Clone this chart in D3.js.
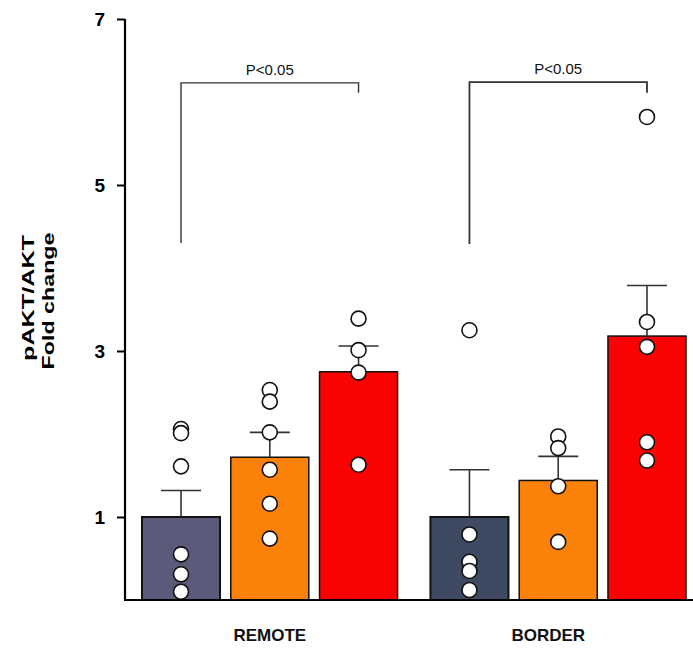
<!DOCTYPE html>
<html>
<head>
<meta charset="utf-8">
<script src="https://cdn.jsdelivr.net/npm/d3@7"></script>
<style>
  html, body { margin: 0; padding: 0; background: #fff; }
  svg { display: block; font-family: "Liberation Sans", Arial, sans-serif; }
</style>
</head>
<body>
<svg id="chart" width="693" height="648"></svg>
<script>
// ---- data ----
const groups = ["REMOTE", "BORDER"];
const conditions = ["C1", "C2", "C3"];
const yTicks = [1, 3, 5, 7];
const remoteMeans = [1.0, 1.72, 2.75];
const borderMeans = [1.0, 1.44, 3.18];
const remoteErrTop = [1.32, 2.02, 3.06];
const borderErrTop = [1.57, 1.73, 3.79];
const remotePoints = [
  [2.06, 2.01, 1.61, 0.55, 0.31, 0.10],
  [2.53, 2.39, 2.02, 1.57, 1.16, 0.74],
  [3.39, 3.01, 2.74, 1.63]
];
const borderPoints = [
  [3.25, 0.79, 0.46, 0.35, 0.12],
  [1.97, 1.83, 1.37, 0.70],
  [5.82, 3.35, 3.05, 1.90, 1.68]
];
const sigLabels = ["P<0.05", "P<0.05"];
const bracketTop = [6.23, 6.24];
const bracketLeftEnd = [4.30, 4.29];
const bracketRightEnd = [6.11, 6.11];

const colors = {
  REMOTE: ["#5b5a7b", "#fc8108", "#fa0202"],
  BORDER: ["#3e4a62", "#fc8108", "#fa0202"]
};

const table = groups.map((g, gi) => ({
  group: g,
  means: gi === 0 ? remoteMeans : borderMeans,
  err: gi === 0 ? remoteErrTop : borderErrTop,
  pts: gi === 0 ? remotePoints : borderPoints
}));

// ---- layout ----
const svg = d3.select("#chart");
const axisX = 125, baseY = 600;

const y = d3.scaleLinear().domain([0, 7]).range([600, 19]);
const x0 = d3.scaleBand().domain(groups).range([142, 686]).paddingInner(0.114).paddingOuter(0);
const x1 = d3.scaleBand().domain(conditions).range([0, x0.bandwidth()]).paddingInner(0.121).paddingOuter(0);

// bars
const gGroups = svg.selectAll("g.grp").data(table).join("g")
  .attr("class", "grp")
  .attr("transform", d => `translate(${x0(d.group)},0)`);

gGroups.selectAll("rect").data(d => d.means.map((m, i) => ({ group: d.group, cond: conditions[i], i, m })))
  .join("rect")
  .attr("x", d => x1(d.cond))
  .attr("y", d => y(d.m))
  .attr("width", x1.bandwidth())
  .attr("height", d => y(0) - y(d.m))
  .attr("fill", d => colors[d.group][d.i])
  .attr("stroke", "#111")
  .attr("stroke-width", d => d.i === 0 ? 2 : 1.5);

// error bars
gGroups.each(function (d) {
  const g = d3.select(this);
  d.means.forEach((m, i) => {
    const cx = x1(conditions[i]) + x1.bandwidth() / 2;
    g.append("line").attr("x1", cx).attr("x2", cx)
      .attr("y1", y(m)).attr("y2", y(d.err[i]))
      .attr("stroke", "#333").attr("stroke-width", 1.6);
    g.append("line").attr("x1", cx - 20).attr("x2", cx + 20)
      .attr("y1", y(d.err[i])).attr("y2", y(d.err[i]))
      .attr("stroke", "#333").attr("stroke-width", 1.6);
  });
});

// points
gGroups.each(function (d) {
  const g = d3.select(this);
  d.pts.forEach((arr, i) => {
    const cx = x1(conditions[i]) + x1.bandwidth() / 2;
    g.selectAll(null).data(arr).join("circle")
      .attr("cx", cx).attr("cy", v => y(v)).attr("r", 7.5)
      .attr("fill", "#fff").attr("stroke", "#111").attr("stroke-width", 1.6);
  });
});

// brackets
groups.forEach((gname, gi) => {
  const xl = x0(gname) + x1(conditions[0]) + x1.bandwidth() / 2;
  const xr = x0(gname) + x1(conditions[2]) + x1.bandwidth() / 2;
  const path = d3.path();
  path.moveTo(xl, y(bracketLeftEnd[gi]));
  path.lineTo(xl, y(bracketTop[gi]));
  path.lineTo(xr, y(bracketTop[gi]));
  path.lineTo(xr, y(bracketRightEnd[gi]));
  svg.append("path").attr("d", path.toString())
    .attr("fill", "none").attr("stroke", "#333").attr("stroke-width", gi === 0 ? 1.4 : 1.8);
  svg.append("text")
    .attr("x", (xl + xr) / 2).attr("y", y(bracketTop[gi]) - 8)
    .attr("text-anchor", "middle").attr("font-size", 15).attr("fill", "#111")
    .text(sigLabels[gi]);
});

// y axis
const yAxis = d3.axisLeft(y).tickValues(yTicks).tickSize(8).tickFormat(d3.format("d"));
const gy = svg.append("g").attr("transform", `translate(${axisX},0)`).call(yAxis);
gy.select(".domain").attr("d", `M0,${y(7)}V${baseY}`).attr("stroke", "#000").attr("stroke-width", 2.2);
gy.selectAll(".tick line").attr("stroke", "#000").attr("stroke-width", 2);
gy.selectAll(".tick text").attr("font-size", 19).attr("font-weight", "bold")
  .attr("fill", "#000").attr("x", -20).attr("font-family", "Liberation Sans, Arial, sans-serif");

// x axis line
svg.append("line").attr("x1", axisX - 1).attr("x2", 693).attr("y1", baseY).attr("y2", baseY)
  .attr("stroke", "#000").attr("stroke-width", 2.2);

// group labels
svg.selectAll("text.glab").data(groups).join("text")
  .attr("class", "glab")
  .attr("x", d => x0(d) + x0.bandwidth() / 2 - (d === "BORDER" ? 10 : 0))
  .attr("y", 641)
  .attr("text-anchor", "middle").attr("font-size", 17).attr("font-weight", "bold").attr("fill", "#111")
  .text(d => d);

// y label
svg.append("text")
  .attr("transform", "translate(34,298) rotate(-90)")
  .attr("text-anchor", "middle").attr("font-size", 17).attr("font-weight", "bold").attr("fill", "#000")
  .attr("textLength", 126).attr("lengthAdjust", "spacingAndGlyphs")
  .text("pAKT/AKT");
svg.append("text")
  .attr("transform", "translate(54,301) rotate(-90)")
  .attr("text-anchor", "middle").attr("font-size", 17).attr("font-weight", "bold").attr("fill", "#000")
  .attr("textLength", 137).attr("lengthAdjust", "spacingAndGlyphs")
  .text("Fold change");
</script>
</body>
</html>
